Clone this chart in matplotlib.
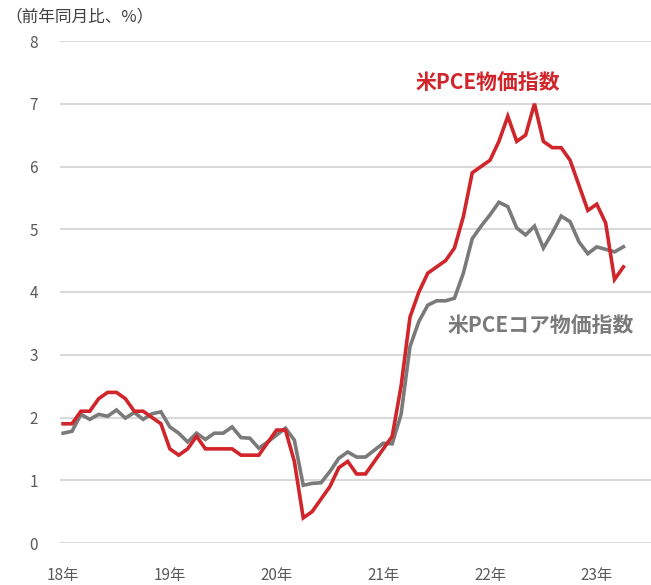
import matplotlib
matplotlib.use("Agg")
import matplotlib.pyplot as plt
import numpy as np

plt.rcParams['font.family'] = ['Noto Sans CJK JP', 'DejaVu Sans']

# monthly, Jan 2018 - Apr 2023
pce = [1.9, 1.9, 2.1, 2.1, 2.3, 2.4, 2.4, 2.3, 2.1, 2.1, 2.0, 1.9,
       1.5, 1.4, 1.5, 1.7, 1.5, 1.5, 1.5, 1.5, 1.4, 1.4, 1.4, 1.6,
       1.8, 1.8, 1.3, 0.4, 0.5, 0.7, 0.9, 1.2, 1.3, 1.1, 1.1, 1.3,
       1.5, 1.7, 2.5, 3.6, 4.0, 4.3, 4.4, 4.5, 4.7, 5.2, 5.9, 6.0,
       6.1, 6.4, 6.8, 6.4, 6.5, 7.0, 6.4, 6.3, 6.3, 6.1, 5.7, 5.3,
       5.4, 5.1, 4.2, 4.4]
core = [1.75, 1.78, 2.05, 1.97, 2.05, 2.02, 2.12, 1.99, 2.08, 1.97, 2.06, 2.09,
        1.85, 1.75, 1.61, 1.75, 1.65, 1.75, 1.75, 1.85, 1.68, 1.67, 1.51, 1.61,
        1.72, 1.83, 1.64, 0.92, 0.95, 0.96, 1.14, 1.35, 1.45, 1.37, 1.37, 1.48,
        1.59, 1.58, 2.05, 3.13, 3.53, 3.79, 3.86, 3.86, 3.9, 4.3, 4.85, 5.05,
        5.23, 5.43, 5.36, 5.02, 4.91, 5.05, 4.7, 4.94, 5.21, 5.12, 4.8, 4.61,
        4.72, 4.68, 4.64, 4.72]
year_labels = ["18年", "19年", "20年", "21年", "22年", "23年"]

red = '#D0252A'
gray = '#7A7A7A'

fig = plt.figure(figsize=(6.51, 5.85), dpi=100)
ax = fig.add_axes([60 / 651, 42 / 585, 591 / 651, 502 / 585])

x = np.arange(len(pce))
ax.plot(x, core, color=gray, lw=2.6, solid_joinstyle='miter')
ax.plot(x, pce, color=red, lw=2.6, solid_joinstyle='miter')

ax.set_ylim(0, 8)
ax.set_xlim(-0.35, 66.1)
ax.set_yticks(range(0, 9))
ax.set_xticks(range(0, len(pce), 12))
ax.set_xticklabels(year_labels)
ax.yaxis.grid(True, color='#D9D9D9', lw=1.5)
ax.set_axisbelow(True)
for s in ax.spines.values():
    s.set_visible(False)
ax.tick_params(length=0, labelsize=11, colors='#595959')
ax.tick_params(axis='y', pad=16)
ax.tick_params(axis='x', pad=17)

ax.text(39.6, 7.33, "米PCE物価指数", color=red, fontsize=15, fontweight='bold', va='center')
ax.text(43.2, 3.45, "米PCEコア物価指数", color=gray, fontsize=15, fontweight='bold', va='center')

fig.text(5 / 651, 1 - 17 / 585, "（前年同月比、%）", fontsize=12, color='#404040', va='center')

fig.savefig("out.png", dpi=100)
